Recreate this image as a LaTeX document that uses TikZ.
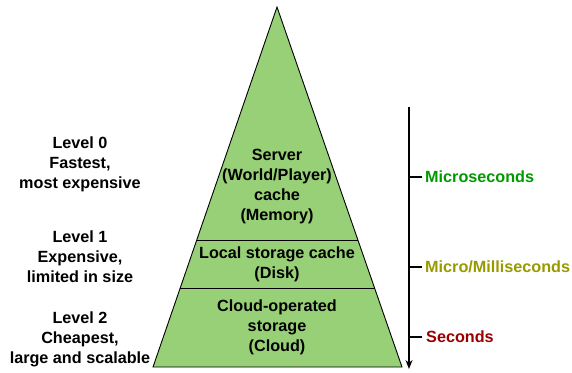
\documentclass[tikz,border=0pt]{standalone}
\usepackage{fontspec}
\setmainfont{Liberation Sans}
\usetikzlibrary{calc,arrows.meta}
\definecolor{tierfill}{HTML}{97D077}
\definecolor{fastcol}{HTML}{009900}
\definecolor{midcol}{HTML}{999900}
\definecolor{slowcol}{HTML}{990000}
\begin{document}
\begin{tikzpicture}[x=1bp,y=-1bp,
  lbl/.style={font=\fontsize{16.2bp}{20bp}\selectfont\bfseries, align=center, inner sep=0pt},
  speed/.style={font=\fontsize{16.2bp}{20bp}\selectfont\bfseries, anchor=west, inner sep=0pt},
  edge/.style={draw=black, line width=0.9bp},
  axis/.style={draw=black, line width=1.5bp}]
  \useasboundingbox (0,0) rectangle (572,372);

  % pyramid corners
  \coordinate (apex) at (277,7);
  \coordinate (bl) at (153,367);
  \coordinate (br) at (402,367);
  \fill[tierfill] (apex) -- (bl) -- (br) -- cycle;
  \draw[edge, line join=miter] (apex) -- (bl) -- (br) -- cycle;

  % tier dividers
  \coordinate (d1l) at ($(apex)!0.6472!(bl)$);
  \coordinate (d1r) at ($(apex)!0.6472!(br)$);
  \coordinate (d2l) at ($(apex)!0.7806!(bl)$);
  \coordinate (d2r) at ($(apex)!0.7806!(br)$);
  \draw[edge] (d1l) -- (d1r);
  \draw[edge] (d2l) -- (d2r);

  % tier contents
  \node[lbl] (t0) at (277,187) {Server\\(World/Player)\\cache\\(Memory)};
  \node[lbl] (t1) at (277,264.5) {Local storage cache\\(Disk)};
  \node[lbl] (t2) at (277,327.5) {Cloud-operated\\storage\\(Cloud)};

  % level descriptions
  \node[lbl] (l0) at (80,164) {Level 0\\Fastest,\\most expensive};
  \node[lbl] (l1) at (80,257) {Level 1\\Expensive,\\limited in size};
  \node[lbl] (l2) at (80,339) {Level 2\\Cheapest,\\large and scalable};

  % latency axis
  \coordinate (atop) at (409,107);
  \coordinate (abot) at (409,369);
  \draw[axis, -{Stealth[length=9bp,width=7bp]}] (atop) -- (abot);

  \coordinate (k0) at (409,177);
  \coordinate (k1) at (409,267);
  \coordinate (k2) at (409,337);
  \node[speed, text=fastcol] (s0) at (425,177) {Microseconds};
  \node[speed, text=midcol] (s1) at (425,267) {Micro/Milliseconds};
  \node[speed, text=slowcol] (s2) at (426,337) {Seconds};
  \draw[axis] (k0) -- ++(13,0) coordinate (k0e);
  \draw[axis] (k1) -- ++(13,0) coordinate (k1e);
  \draw[axis] (k2) -- ++(13,0) coordinate (k2e);
\end{tikzpicture}
\end{document}
